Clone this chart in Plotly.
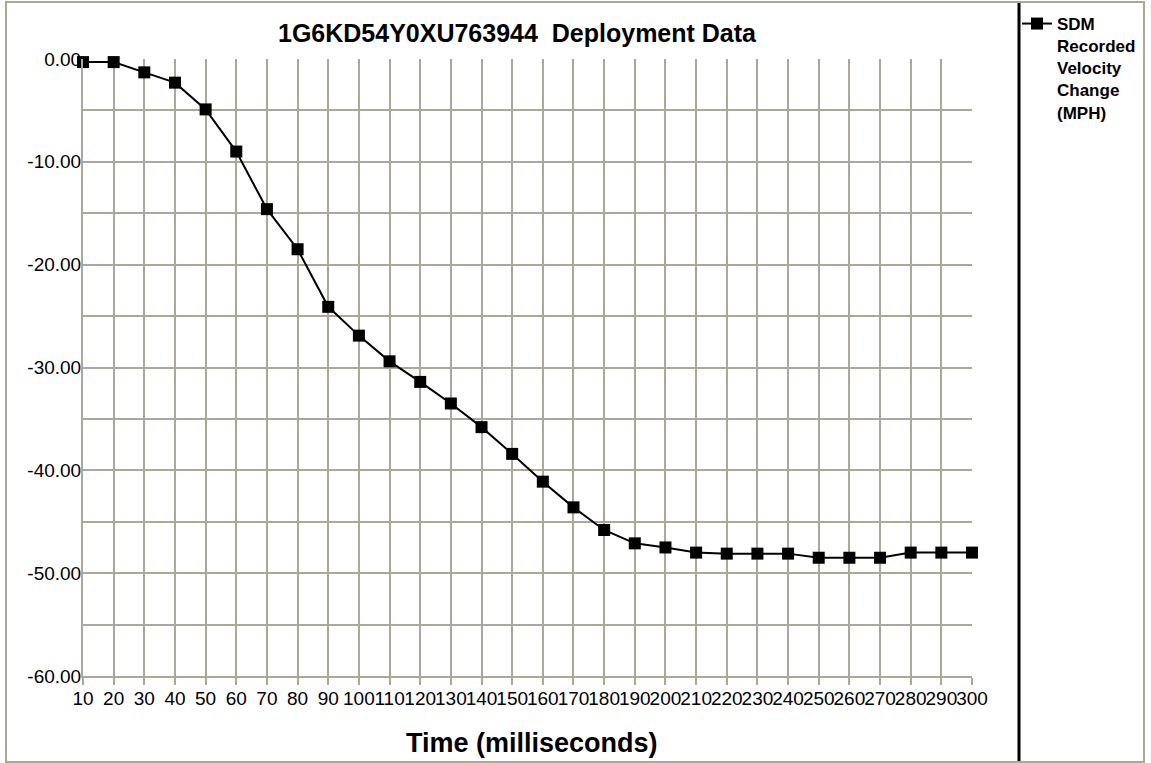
import plotly.graph_objects as go

# ---- data ----
time_ms = [10, 20, 30, 40, 50, 60, 70, 80, 90, 100, 110, 120, 130, 140, 150,
           160, 170, 180, 190, 200, 210, 220, 230, 240, 250, 260, 270, 280, 290, 300]
velocity_change = [-0.3, -0.3, -1.3, -2.3, -4.9, -9.0, -14.6, -18.5, -24.1, -26.9,
                   -29.4, -31.4, -33.5, -35.8, -38.4, -41.1, -43.6, -45.8, -47.1, -47.5,
                   -48.0, -48.1, -48.1, -48.1, -48.5, -48.5, -48.5, -48.0, -48.0, -48.0]
x_ticks = list(range(10, 301, 10))
y_ticks = [0, -10, -20, -30, -40, -50, -60]
series_name = "SDM<br>Recorded<br>Velocity<br>Change<br>(MPH)"
title_text = "1G6KD54Y0XU763944  Deployment Data"
x_title = "Time (milliseconds)"

# ---- layout geometry ----
W, H = 1151, 763
L, R, T, B = 83, 179, 59, 87
PW, PH = W - L - R, H - T - B
GRID = "#ACA899"
FONT = "Liberation Sans, Arial, sans-serif"


def px(xp):
    return (xp - L) / PW


def py(yp):
    return (H - B - yp) / PH


fig = go.Figure()
fig.add_trace(go.Scatter(
    x=time_ms, y=velocity_change, mode="lines+markers", name=series_name,
    line=dict(color="black", width=2),
    marker=dict(symbol="square", size=12, color="black"),
    cliponaxis=False,
))

fig.update_layout(
    width=W, height=H,
    margin=dict(l=L, r=R, t=T, b=B, pad=0, autoexpand=False),
    paper_bgcolor="white", plot_bgcolor="white",
    font=dict(family=FONT, color="black"),
    title=dict(text=title_text, x=517 / W, xref="container", xanchor="center",
               y=1 - 33 / H, yref="container", yanchor="middle",
               font=dict(size=25, weight="bold", family=FONT, color="black")),
    showlegend=True,
    legend=dict(x=px(1017), y=py(6), xanchor="left", yanchor="top",
                valign="top", itemwidth=30, bgcolor="rgba(0,0,0,0)",
                font=dict(size=17, weight="bold", family=FONT, color="black")),
    xaxis=dict(range=[10, 300], tickvals=x_ticks, ticktext=[str(v) for v in x_ticks],
               showgrid=True, gridcolor=GRID, gridwidth=2,
               showline=True, linecolor=GRID, linewidth=2,
               ticks="outside", ticklen=7, tickwidth=2, tickcolor=GRID,
               zeroline=False, automargin=False, ticklabelstandoff=-3,
               tickfont=dict(size=19, family=FONT, color="black"),
               tickangle=0),
    yaxis=dict(range=[-60, 0], tickvals=y_ticks, ticktext=[f"{v:.2f}" for v in y_ticks],
               showgrid=True, gridcolor=GRID, gridwidth=2,
               minor=dict(dtick=5, tick0=0, showgrid=True, gridcolor=GRID, gridwidth=2),
               showline=True, linecolor=GRID, linewidth=2,
               ticks="", zeroline=False, automargin=False, ticklabelstandoff=-4,
               tickfont=dict(size=19, family=FONT, color="black")),
    annotations=[dict(text=x_title, xref="paper", yref="paper",
                      x=px(532), y=py(743), xanchor="center", yanchor="middle",
                      showarrow=False,
                      font=dict(size=27, weight="bold", family=FONT, color="black"))],
    shapes=[
        dict(type="rect", xref="paper", yref="paper",
             x0=px(6), x1=px(1144), y0=py(762), y1=py(2),
             line=dict(color=GRID, width=2), fillcolor="rgba(0,0,0,0)", layer="below"),
        dict(type="line", xref="paper", yref="paper",
             x0=px(1019), x1=px(1019), y0=py(761), y1=py(3),
             line=dict(color="black", width=3)),
    ],
)

fig.write_html(
    "out.html",
    config={"displayModeBar": False},
    post_script="document.body.style.margin='0';document.body.style.overflow='hidden';",
)
